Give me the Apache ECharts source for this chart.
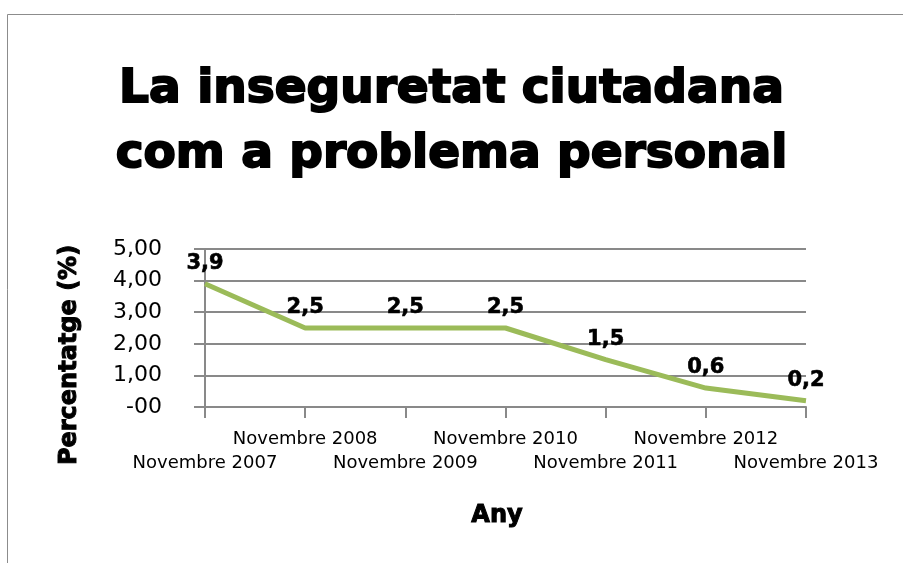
<!DOCTYPE html>
<html>
<head>
<meta charset="utf-8">
<script src="https://cdn.jsdelivr.net/npm/echarts@6/dist/echarts.min.js"></script>
<style>
  html, body { margin: 0; padding: 0; background: #fff; }
  #chart { width: 903px; height: 563px; }
</style>
</head>
<body>
<div id="chart"></div>
<script>
// dades
const years = ["Novembre 2007", "Novembre 2008", "Novembre 2009", "Novembre 2010", "Novembre 2011", "Novembre 2012", "Novembre 2013"];
const percentatge = [3.9, 2.5, 2.5, 2.5, 1.5, 0.6, 0.2];
const yTicks = [0, 1, 2, 3, 4, 5];

const chart = echarts.init(document.getElementById("chart"));
const gray = "#898989";
const font = "DejaVu Sans";

const option = {
  backgroundColor: "#fff",
  animation: false,
  title: {
    text: "La inseguretat ciutadana\ncom a problema personal",
    left: "center",
    top: 52,
    textStyle: {
      fontFamily: font,
      fontWeight: "bold",
      fontSize: 47,
      lineHeight: 65,
      color: "#000",
      textBorderColor: "#000",
      textBorderWidth: 2,
    },
  },
  grid: {
    left: 205,
    right: 97,
    top: 249,
    bottom: 156,
  },
  xAxis: {
    type: "category",
    data: years,
    boundaryGap: false,
    axisLine: { lineStyle: { color: gray, width: 2 } },
    axisTick: { show: true, length: 11, lineStyle: { color: gray, width: 2 } },
    axisLabel: {
      interval: 0,
      margin: 20,
      fontFamily: font,
      fontSize: 18,
      lineHeight: 24,
      color: "#000",
      // etiquetes alternades en dues files
      formatter: (v, i) => (i % 2 === 0 ? "\n" + v : v),
    },
  },
  yAxis: {
    type: "value",
    min: yTicks[0],
    max: yTicks[yTicks.length - 1],
    interval: 1,
    axisLine: { show: true, lineStyle: { color: gray, width: 2 } },
    axisTick: { show: true, length: 11, lineStyle: { color: gray, width: 2 } },
    splitLine: { lineStyle: { color: gray, width: 2 } },
    axisLabel: {
      margin: 43,
      fontFamily: font,
      fontSize: 22,
      color: "#000",
      formatter: (v) => (v === 0 ? "-00" : v.toFixed(2).replace(".", ",")),
    },
  },
  series: [
    {
      type: "line",
      data: percentatge,
      symbol: "circle",
      symbolSize: 0,
      showSymbol: true,
      lineStyle: { color: "#9BBB59", width: 5 },
      itemStyle: { color: "#9BBB59" },
      label: {
        show: true,
        position: "top",
        distance: 10,
        fontFamily: font,
        fontWeight: "bold",
        fontSize: 21,
        color: "#000",
        textBorderColor: "#000",
        textBorderWidth: 0.6,
        formatter: (p) => String(p.value).replace(".", ","),
      },
    },
  ],
  graphic: [
    {
      type: "rect",
      shape: { x: 7.5, y: 14.5, width: 1000, height: 1000 },
      style: { fill: "none", stroke: "#8c8c8c", lineWidth: 1 },
    },
    {
      type: "text",
      x: 70,
      y: 355,
      rotation: Math.PI / 2,
      style: {
        text: "Percentatge (%)",
        fontFamily: font,
        fontWeight: "bold",
        fontSize: 24,
        fill: "#000",
        stroke: "#000",
        lineWidth: 1,
        align: "center",
        verticalAlign: "middle",
      },
    },
    {
      type: "text",
      x: 497,
      y: 516,
      style: {
        text: "Any",
        fontFamily: font,
        fontWeight: "bold",
        fontSize: 24,
        fill: "#000",
        stroke: "#000",
        lineWidth: 1,
        align: "center",
        verticalAlign: "middle",
      },
    },
  ],
};
chart.setOption(option);
</script>
</body>
</html>
